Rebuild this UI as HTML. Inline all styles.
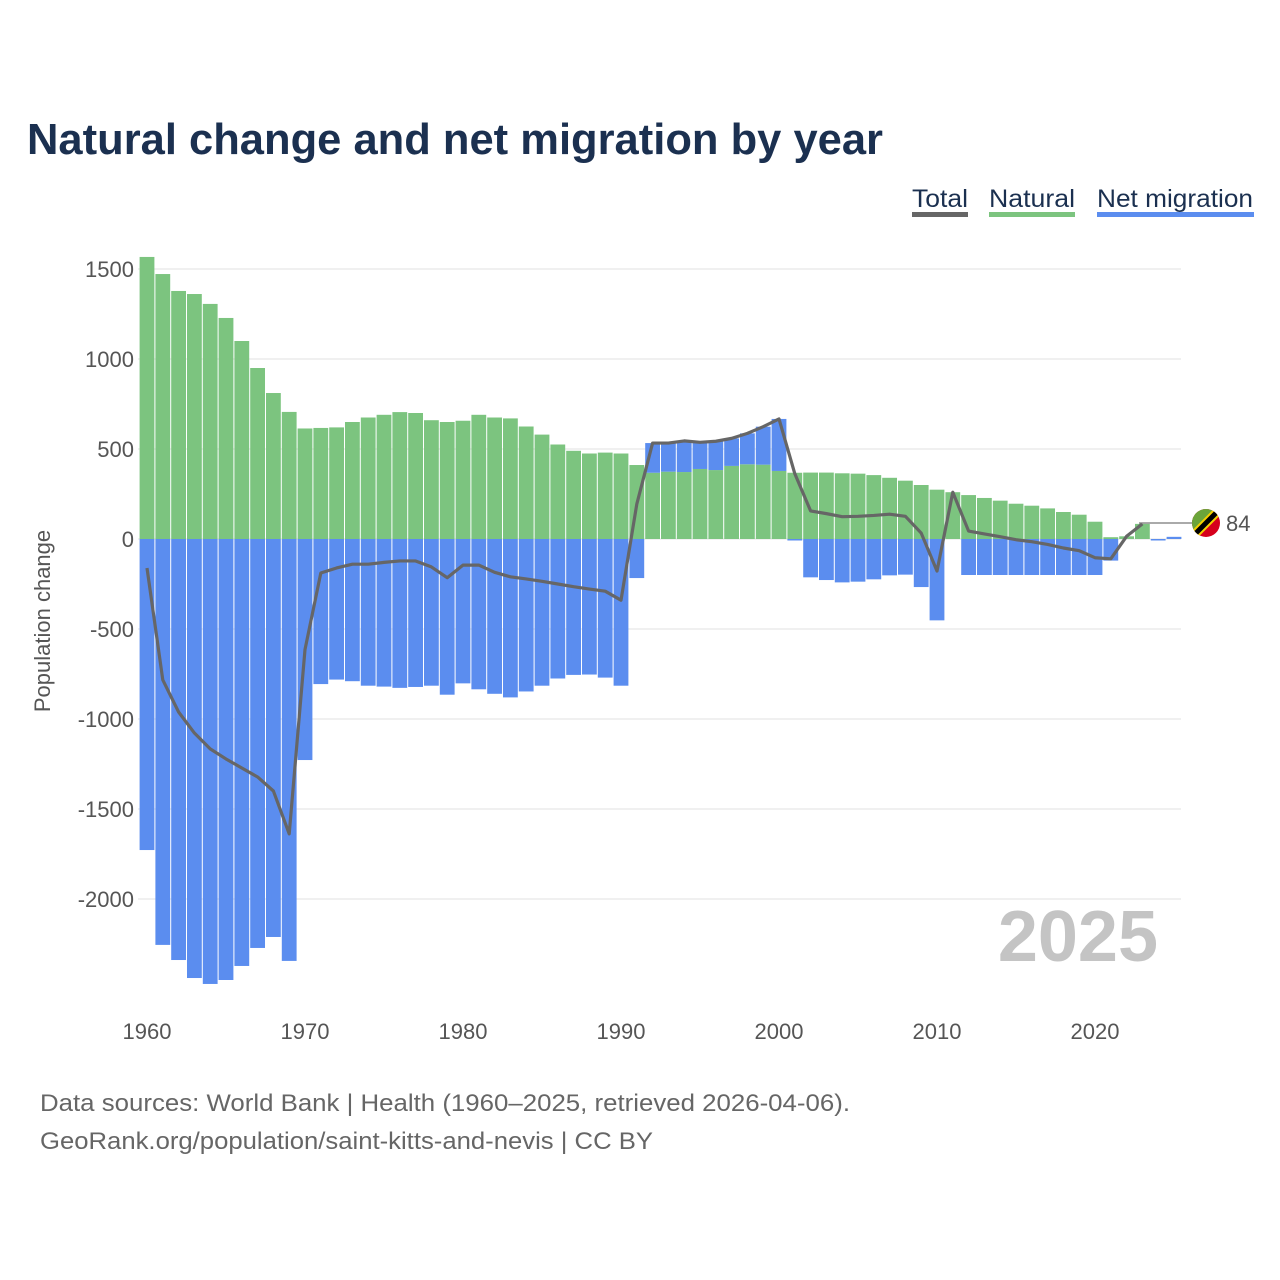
<!DOCTYPE html>
<html><head><meta charset="utf-8"><style>
html,body{margin:0;padding:0;background:#fff;}
svg{display:block;font-family:"Liberation Sans",sans-serif;}
</style></head><body>
<svg id="chart" width="1280" height="1280" viewBox="0 0 1280 1280" xmlns="http://www.w3.org/2000/svg">
<defs><clipPath id="flagclip"><circle cx="1206" cy="523" r="14"/></clipPath></defs>
<text x="27" y="154" font-size="44" font-weight="bold" fill="#1b3050" textLength="856" lengthAdjust="spacingAndGlyphs">Natural change and net migration by year</text>
<g font-size="25" fill="#1b3050">
<g><text x="912" y="207" textLength="56" lengthAdjust="spacingAndGlyphs">Total</text><rect x="912" y="212" width="56" height="5" fill="#666"/></g>
<g><text x="989" y="207" textLength="86" lengthAdjust="spacingAndGlyphs">Natural</text><rect x="989" y="212" width="86" height="5" fill="#7cc47f"/></g>
<g><text x="1097" y="207" textLength="156" lengthAdjust="spacingAndGlyphs">Net migration</text><rect x="1097" y="212" width="157" height="5" fill="#5b8def"/></g>
</g>
<g id="grid"></g><g id="bars"></g><g id="line"></g><g id="axes"></g>
<text x="1158" y="961" text-anchor="end" font-size="72" font-weight="bold" fill="#c4c4c4">2025</text>
<text transform="translate(50,621) rotate(-90)" text-anchor="middle" font-size="22" fill="#555">Population change</text>
<g>
<line x1="1139" y1="523" x2="1192" y2="523" stroke="#777" stroke-width="1.2"/>
<g clip-path="url(#flagclip)">
<rect x="1190" y="507" width="32" height="32" fill="#d6001c"/>
<polygon points="1190,507 1222,507 1190,539" fill="#6ba53a"/>
<line x1="1192" y1="537" x2="1220" y2="509" stroke="#f5d000" stroke-width="9"/>
<line x1="1192" y1="537" x2="1220" y2="509" stroke="#000" stroke-width="5"/>
</g>
<text x="1226" y="531" font-size="22" fill="#555">84</text>
</g>
<g font-size="24" fill="#666">
<text x="40" y="1111" textLength="810" lengthAdjust="spacingAndGlyphs">Data sources: World Bank | Health (1960–2025, retrieved 2026-04-06).</text>
<text x="40" y="1149" textLength="613" lengthAdjust="spacingAndGlyphs">GeoRank.org/population/saint-kitts-and-nevis | CC BY</text>
</g>
</svg>
<script>
const years = [];
for (let y = 1960; y <= 2025; y++) years.push(y);
const natural = [1567,1472,1378,1361,1306,1228,1100,950,811,706,
 614,617,620,650,675,690,705,700,660,650,
 657,690,675,670,625,580,525,490,475,480,
 475,411,368,374,372,389,383,406,415,413,
 378,368,369,369,365,363,355,340,324,300,
 274,260,244,228,213,196,185,170,150,135,
 96,10,15,84,0,0];
const migration = [-1728,-2255,-2339,-2439,-2472,-2450,-2372,-2272,-2211,-2344,
 -1228,-806,-781,-790,-815,-820,-827,-822,-815,-865,
 -802,-835,-860,-880,-847,-815,-775,-755,-753,-770,
 -815,-217,165,159,173,148,160,153,172,211,
 289,-5,-213,-228,-241,-237,-224,-202,-198,-267,
 -452,0,-200,-200,-200,-200,-200,-200,-200,-200,
 -200,-120,0,0,-4,12];
const totalEndYear = 2023;
const yTicks = [1500,1000,500,0,-500,-1000,-1500,-2000];
const xTicks = [1960,1970,1980,1990,2000,2010,2020];

const NS = "http://www.w3.org/2000/svg";
const yZero = 539, pxPerUnit = 0.18;
const yScale = v => yZero - v * pxPerUnit;
const xScale = yr => 147 + (yr - 1960) * 15.8;
const barW = 14.8;
function mk(tag, attrs, parent){ const e=document.createElementNS(NS,tag); for(const k in attrs) e.setAttribute(k,attrs[k]); parent.appendChild(e); return e; }

const grid = document.getElementById('grid'), axes = document.getElementById('axes');
yTicks.forEach(t => {
  const gl = mk('line',{x1:138,x2:1181,y1:yScale(t),y2:yScale(t),stroke:'#e8e8e8','stroke-width':1.2},grid);
  
  
  const lb = mk('text',{x:134,y:yScale(t)+8,'text-anchor':'end','font-size':22,fill:'#555'},axes);
  lb.textContent = String(t);
  
  
});
xTicks.forEach(t => {
  const lb = mk('text',{x:xScale(t),y:1039,'text-anchor':'middle','font-size':22,fill:'#555'},axes);
  lb.textContent = String(t);
  
  
});

const bars = document.getElementById('bars');
years.forEach((yr,i) => {
  const n = natural[i], m = migration[i];
  const x = xScale(yr) - barW/2;
  if (n > 0) {
    const r = mk('rect',{x:x,width:barW,y:yScale(n),height:n*pxPerUnit,fill:'#7cc47f'},bars);
    
    
  }
  if (m !== 0) {
    let y0, h;
    if (m > 0) { y0 = yScale(Math.max(n,0) + m); h = m*pxPerUnit; }
    else { y0 = yScale(0); h = -m*pxPerUnit; }
    const r = mk('rect',{x:x,width:barW,y:y0,height:Math.max(h,1.5),fill:'#5b8def'},bars);
    
    
  }
});

const lineG = document.getElementById('line');
const pts = [];
years.forEach((yr,i) => { if (yr <= totalEndYear) pts.push(xScale(yr)+','+yScale(natural[i]+migration[i])); });
const pl = mk('polyline',{points:pts.join(' '),fill:'none',stroke:'#666','stroke-width':3.2,'stroke-linejoin':'round'},lineG);


</script>
</body></html>
